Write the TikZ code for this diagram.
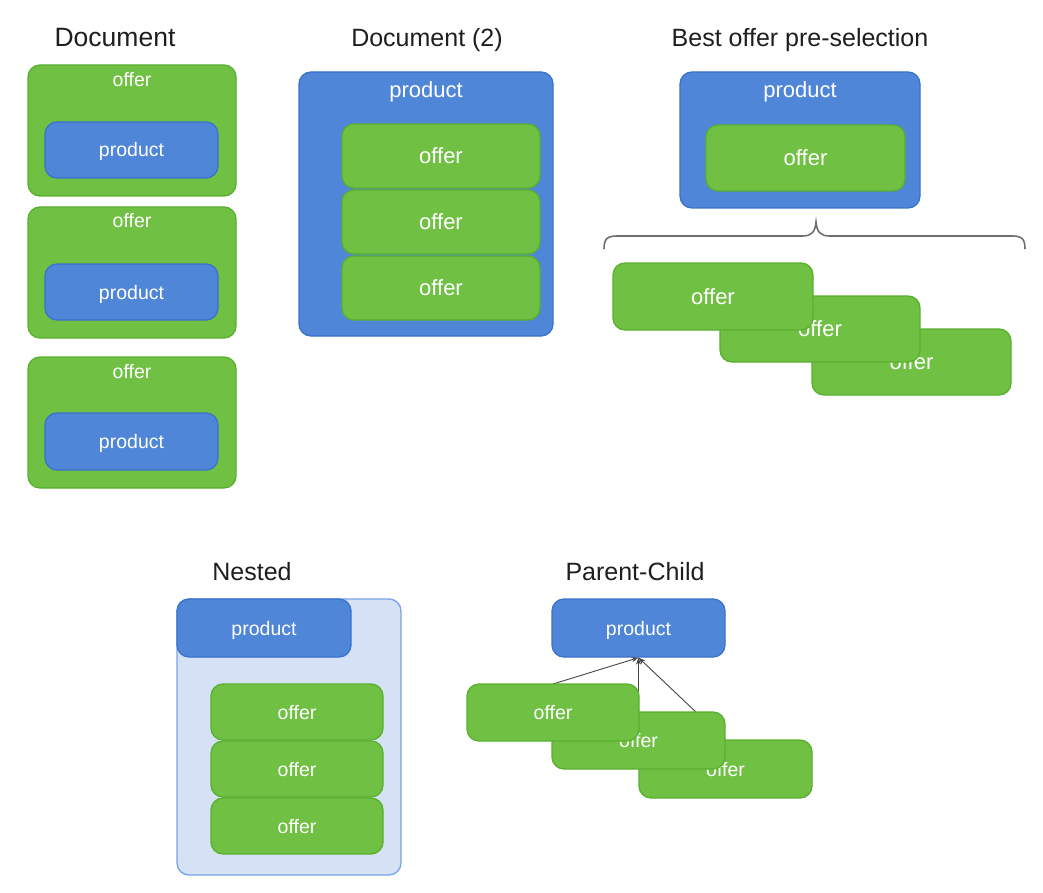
\documentclass[tikz,border=0pt]{standalone}
\usepackage{fontspec}
\setmainfont{Liberation Sans}
\usetikzlibrary{arrows.meta}
\definecolor{grn}{RGB}{112,192,67}
\definecolor{grnd}{RGB}{88,176,46}
\definecolor{blu}{RGB}{80,134,216}
\definecolor{blud}{RGB}{58,114,204}
\definecolor{lblu}{RGB}{213,226,246}
\definecolor{lblud}{RGB}{120,163,232}
\definecolor{ttl}{RGB}{30,30,30}
\definecolor{brc}{RGB}{110,110,110}
\definecolor{arr}{RGB}{70,70,70}
\tikzset{
  base/.style={rounded corners=12pt, line width=1.3pt, inner sep=0pt, text=white,
    text depth=0pt},
  gbox/.style={base, fill=grn, draw=grnd},
  bbox/.style={base, fill=blu, draw=blud},
  lbox/.style={base, fill=lblu, draw=lblud},
  big/.style={font=\fontsize{22}{26}\selectfont, text height=15.6pt, text depth=0pt},
  small/.style={font=\fontsize{19.5}{23}\selectfont, text height=14pt, text depth=0pt},
  lbl/.style={text=white, inner sep=0pt},
  ttlstyle/.style={text=ttl, inner sep=0pt, font=\fontsize{25}{30}\selectfont,
    text height=17.6pt, text depth=0pt},
  conn/.style={draw=arr, line width=0.9pt, -{Stealth[length=7pt,width=5pt]}},
  bracestyle/.style={draw=brc, line width=1.6pt}
}
\begin{document}
\begin{tikzpicture}[x=1pt,y=-1pt]
\useasboundingbox (0,0) rectangle (1043,893);
% ---------- Document ----------
\node[ttlstyle, font=\fontsize{26.5}{30}\selectfont, text height=18pt] (t1) at (115,38) {Document};
\node[gbox, minimum width=208, minimum height=131] (d1o) at (132,130.5) {};
\node[lbl, small] (d1ol) at (132,80) {offer};
\node[bbox, small, minimum width=173, minimum height=56] (d1p) at (131.5,150) {product};
\node[gbox, minimum width=208, minimum height=131] (d2o) at (132,272.5) {};
\node[lbl, small] (d2ol) at (132,221) {offer};
\node[bbox, small, minimum width=173, minimum height=56] (d2p) at (131.5,292) {product};
\node[gbox, minimum width=208, minimum height=131] (d3o) at (132,422.5) {};
\node[lbl, small] (d3ol) at (132,371) {offer};
\node[bbox, small, minimum width=173, minimum height=57] (d3p) at (131.5,441.5) {product};
% ---------- Document (2) ----------
\node[ttlstyle] (t2) at (427,38) {Document (2)};
\node[bbox, minimum width=254, minimum height=264] (e0) at (426,204) {};
\node[lbl, big] (e0l) at (426,90) {product};
\node[gbox, big, minimum width=198, minimum height=64] (e1) at (441,156) {offer};
\node[gbox, big, minimum width=198, minimum height=64] (e2) at (441,222) {offer};
\node[gbox, big, minimum width=198, minimum height=64] (e3) at (441,288) {offer};
% ---------- Best offer pre-selection ----------
\node[ttlstyle] (t3) at (800,38) {Best offer pre-selection};
\node[bbox, minimum width=240, minimum height=136] (bp) at (800,140) {};
\node[lbl, big] (bpl) at (800,90) {product};
\node[gbox, big, minimum width=199, minimum height=66] (bo) at (805.5,158) {offer};
\coordinate (brtip) at (816,222);
\draw[bracestyle] (604,249) .. controls (604,239) and (607,236) .. (617,236) -- (802,236)
  .. controls (812,236) and (815,232) .. (brtip)
  .. controls (817,232) and (820,236) .. (830,236) -- (1012,236)
  .. controls (1022,236) and (1025,239) .. (1025,249);
\node[gbox, big, minimum width=199, minimum height=66] (sc) at (911.5,362) {offer};
\node[gbox, big, minimum width=200, minimum height=66] (sb) at (820,329) {offer};
\node[gbox, big, minimum width=200, minimum height=67] (sa) at (713,296.5) {offer};
% ---------- Nested ----------
\node[ttlstyle] (t4) at (252,572) {Nested};
\node[lbox, minimum width=224, minimum height=276] (n0) at (289,737) {};
\node[bbox, small, minimum width=174, minimum height=58] (np) at (264,628) {product};
\node[gbox, small, minimum width=172, minimum height=56] (n1) at (297,712) {offer};
\node[gbox, small, minimum width=172, minimum height=56] (n2) at (297,769) {offer};
\node[gbox, small, minimum width=172, minimum height=56] (n3) at (297,826) {offer};
% ---------- Parent-Child ----------
\node[ttlstyle] (t5) at (635,572) {Parent-Child};
\node[bbox, small, minimum width=173, minimum height=58] (pp) at (638.5,628) {product};
\coordinate (pa) at (553,684);
\coordinate (pb) at (638.5,712);
\coordinate (pc) at (725.5,740);
\draw[conn] (pa) -- (pp.south);
\draw[conn] (pb) -- (pp.south);
\draw[conn] (pc) -- (pp.south);
\node[gbox, small, minimum width=173, minimum height=58] (pcC) at (725.5,769) {offer};
\node[gbox, small, minimum width=173, minimum height=57] (pcB) at (638.5,740.5) {offer};
\node[gbox, small, minimum width=172, minimum height=57] (pcA) at (553,712.5) {offer};
\end{tikzpicture}
\end{document}
